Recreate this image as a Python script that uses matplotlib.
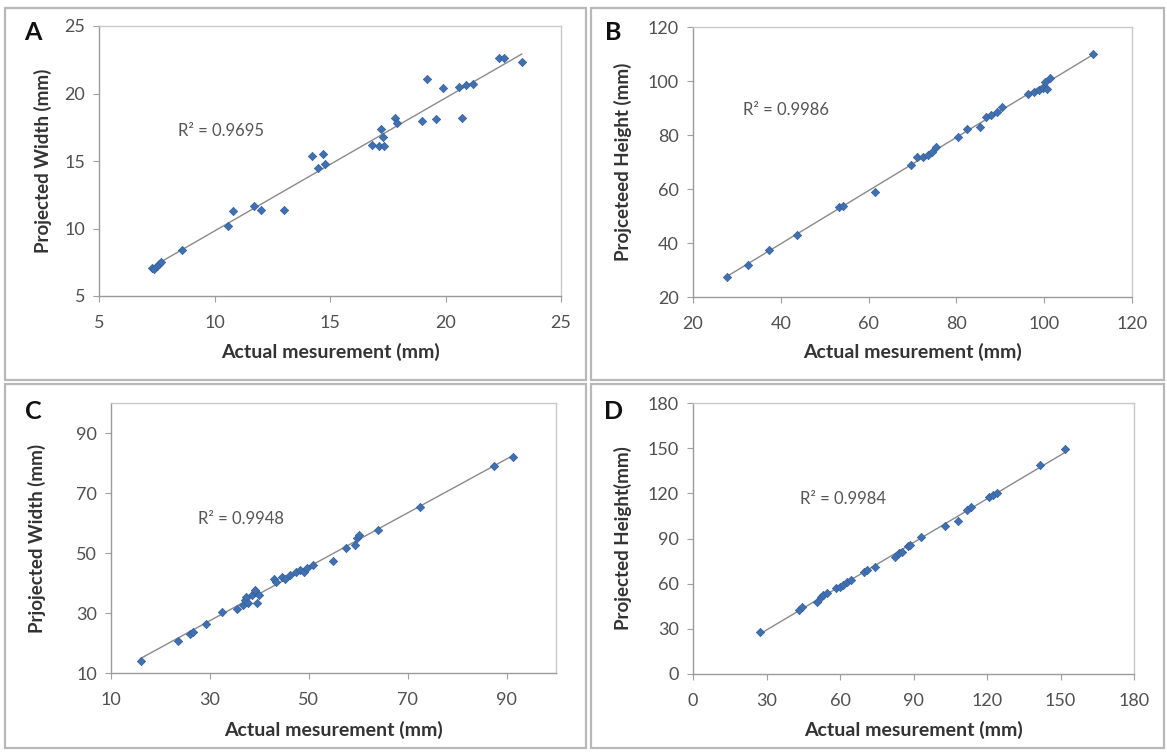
import numpy as np
import matplotlib
matplotlib.use("Agg")
import matplotlib.pyplot as plt
from matplotlib.patches import Rectangle

# ---------------- data ----------------
A_actual = [7.3, 7.4, 7.5, 7.6, 7.7, 8.6, 10.6, 10.8, 11.7, 12.0, 13.0, 14.2, 14.5, 14.7,
            14.8, 16.8, 17.1, 17.2, 17.3, 17.35, 17.8, 17.9, 19.0, 19.2, 19.6, 19.9, 20.6,
            20.7, 20.9, 21.2, 22.3, 22.55, 23.3]
A_proj = [7.1, 7.0, 7.2, 7.4, 7.5, 8.4, 10.15, 11.3, 11.7, 11.4, 11.35, 15.35, 14.5, 15.5,
          14.75, 16.2, 16.1, 17.35, 16.8, 16.1, 18.2, 17.8, 17.95, 21.1, 18.1, 20.4, 20.5,
          18.2, 20.6, 20.7, 22.65, 22.65, 22.3]

B_actual = [27.8, 32.5, 37.3, 43.6, 53.3, 54.2, 61.5, 69.6, 71.1, 72.3, 73.6, 74.4, 75.3,
            80.3, 82.4, 85.4, 86.7, 87.9, 89.2, 90.5, 96.4, 97.6, 98.9, 99.7, 100.2, 100.6,
            101.4, 111.1]
B_proj = [27.4, 32.0, 37.3, 43.1, 53.3, 53.7, 58.9, 68.8, 71.9, 71.9, 72.5, 73.7, 75.6,
          79.3, 82.3, 83.0, 86.7, 87.3, 88.5, 90.4, 95.3, 95.9, 96.8, 97.5, 99.6, 97.2,
          101.2, 110.1]

C_actual = [16.0, 23.5, 26.0, 26.5, 29.3, 32.5, 35.5, 36.6, 37.0, 37.3, 37.7, 38.5, 39.1,
            39.6, 40.0, 39.2, 43.0, 43.3, 44.5, 45.2, 46.3, 47.5, 48.2, 49.0, 49.7, 50.8,
            54.9, 57.6, 59.4, 59.8, 60.2, 63.9, 72.5, 87.5, 91.3]
C_proj = [14.0, 20.7, 23.1, 23.7, 26.5, 30.2, 31.5, 32.6, 34.3, 35.4, 33.2, 36.0, 37.1,
          33.2, 36.0, 37.6, 41.5, 40.4, 42.1, 41.5, 42.6, 43.8, 44.3, 43.8, 44.9, 46.0,
          47.3, 51.6, 52.7, 54.9, 56.0, 57.7, 65.5, 78.9, 81.9]

D_actual = [27.5, 43.1, 44.6, 50.7, 52.2, 53.0, 54.5, 58.2, 59.8, 61.3, 62.8, 64.3, 69.6,
            71.1, 74.1, 82.5, 84.0, 85.5, 87.7, 88.5, 93.0, 102.9, 108.2, 112.0, 113.5,
            121.0, 122.5, 124.0, 141.5, 152.0]
D_proj = [27.7, 42.5, 44.7, 48.1, 51.4, 52.5, 53.6, 56.9, 58.0, 59.1, 61.4, 62.5, 68.0,
          69.1, 71.4, 78.0, 80.2, 81.3, 84.7, 85.8, 90.9, 98.6, 101.3, 109.0, 110.8,
          117.3, 118.6, 120.1, 139.0, 149.6]

panel_letters = ["A", "B", "C", "D"]
y_titles = ["Projected Width (mm)", "Projceteed Height (mm)",
            "Prjojected Width (mm)", "Projected Height(mm)"]
x_title = "Actual mesurement (mm)"
r2_texts = ["R\u00b2 = 0.9695", "R\u00b2 = 0.9986", "R\u00b2 = 0.9948", "R\u00b2 = 0.9984"]

A_xticks = [5, 10, 15, 20, 25]
B_xticks = [20, 40, 60, 80, 100, 120]
C_xticks = [10, 30, 50, 70, 90]
D_xticks = [0, 30, 60, 90, 120, 150, 180]

# ---------------- figure ----------------
W, H = 1167, 754
fig = plt.figure(figsize=(W / 100, H / 100), dpi=100)
plt.rcParams['font.family'] = ['Lato', 'DejaVu Sans']

def fx(px):
    return px / W

def fy(py):
    return 1 - py / H

# panel frames (pixel boxes: x0, y0, x1, y1)
frames = [(5, 8, 586, 380), (591, 8, 1164, 380), (5, 384, 586, 748), (591, 384, 1164, 748)]
for (x0, y0, x1, y1) in frames:
    fig.add_artist(Rectangle((fx(x0), fy(y1)), fx(x1 - x0), (y1 - y0) / H,
                             transform=fig.transFigure, fill=False,
                             edgecolor='#b8b8b8', lw=1.6))

# axes pixel boxes: left, top, right, bottom
boxes = [(99, 26, 561, 296), (693, 27, 1132, 297), (111, 403, 556, 673), (693, 403, 1134, 674)]
limits = [((5, 25), (5, 25), A_xticks, A_xticks),
          ((20, 120), (20, 120), B_xticks, B_xticks),
          ((10, 100), (10, 100), C_xticks, C_xticks),
          ((0, 180), (0, 180), D_xticks, D_xticks)]
datasets = [(A_actual, A_proj), (B_actual, B_proj), (C_actual, C_proj), (D_actual, D_proj)]
r2_pos = [(8.4, 17.2), (31.4, 89.3), (27.5, 61.3), (43.7, 116.2)]
letter_pos = [(33, 32), (613, 33), (33, 411), (614, 411)]
ylabel_x = [43, 623, 37, 623]

tick_col = '#505050'
for i in range(4):
    l, t, r, b = boxes[i]
    ax = fig.add_axes([fx(l), fy(b), (r - l) / W, (b - t) / H])
    xs, ys = datasets[i]
    xs = np.array(xs)
    ys = np.array(ys)
    # trend line from data fit
    k, c = np.polyfit(xs, ys, 1)
    xl = np.array([xs.min(), xs.max()])
    ax.plot(xl, k * xl + c, color='#8a8a8a', lw=1.0, zorder=2)
    ax.scatter(xs, ys, marker='D', s=18, color='#3f70b2', edgecolor='#345f99',
               linewidths=0.5, zorder=3)
    (xlo, xhi), (ylo, yhi), xt, yt = limits[i]
    ax.set_xlim(xlo, xhi)
    ax.set_ylim(ylo, yhi)
    ax.set_xticks(xt)
    if i == 2:
        ax.set_yticks([10, 30, 50, 70, 90])
    else:
        ax.set_yticks(yt)
    ax.tick_params(direction='out', length=4, width=0.8, color='#a0a0a0',
                   labelsize=13, labelcolor=tick_col)
    ax.tick_params(axis='x', pad=10)
    ax.tick_params(axis='y', pad=6)
    for s in ['left', 'bottom']:
        ax.spines[s].set_color('#9a9a9a')
        ax.spines[s].set_linewidth(1.0)
    for s in ['top', 'right']:
        ax.spines[s].set_color('#c8c8c8')
        ax.spines[s].set_linewidth(1.0)
    ax.text(r2_pos[i][0], r2_pos[i][1], r2_texts[i], fontsize=12, color='#555555',
            ha='left', va='center')
    # x label
    fig.text(fx((l + r) / 2), fy(352 if i < 2 else 730), x_title, fontsize=14,
             fontweight='bold', color='#333333', ha='center', va='center')
    # y label
    fig.text(fx(ylabel_x[i]), fy((t + b) / 2), y_titles[i], fontsize=13.5,
             fontweight='bold', color='#333333', ha='center', va='center', rotation=90)
    # panel letter
    fig.text(fx(letter_pos[i][0]), fy(letter_pos[i][1]), panel_letters[i], fontsize=18,
             fontweight='bold', color='#111111', ha='center', va='center')

fig.savefig('out.png', dpi=100)
